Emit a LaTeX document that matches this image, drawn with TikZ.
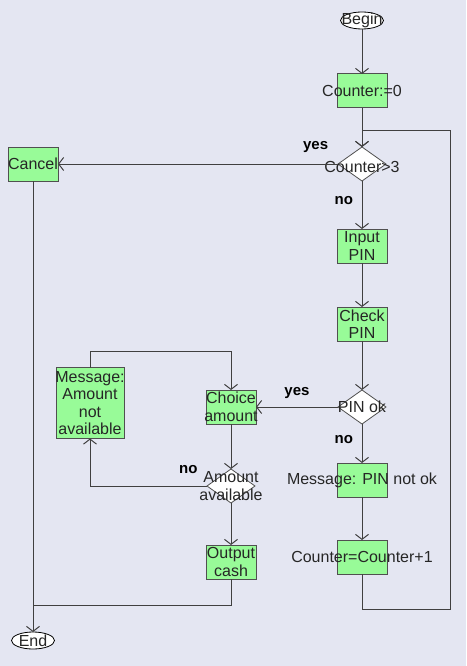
\documentclass[tikz,border=0pt]{standalone}
\usepackage{fontspec}
\setmainfont{Liberation Sans}
\usetikzlibrary{shapes.geometric,arrows.meta,positioning}
\definecolor{canvas}{HTML}{E4E6F2}
\definecolor{boxgreen}{HTML}{98FB98}
\definecolor{edge}{HTML}{505050}

\begin{document}
\begin{tikzpicture}[
  node distance=40pt,
  every node/.style={outer sep=0pt},
  txt/.style={
    inner sep=0pt,
    align=center,
    text=black!85,
    font=\fontsize{16}{17.5}\selectfont
  },
  box/.style={
    draw=edge,
    fill=boxgreen,
    line width=1pt,
    minimum width=50pt,
    minimum height=34pt,
    inner sep=0pt
  },
  decision/.style={
    diamond,
    draw=edge,
    fill=white,
    line width=0.8pt,
    minimum width=48pt,
    minimum height=34pt,
    inner sep=0pt
  },
  term/.style={
    ellipse,
    draw=black,
    fill=white,
    line width=0.8pt,
    minimum width=43pt,
    minimum height=17pt,
    inner sep=0pt
  },
  lbl/.style={inner sep=0pt, font=\fontsize{15}{15}\selectfont\bfseries},
  line/.style={draw=black!75, line width=1pt},
  arrow/.style={line, -{Straight Barb[length=5pt,width=13pt]}}
]

  \fill[canvas] (0,0) rectangle (466pt,-666pt);

  \node[term,label={[txt]center:Begin}] (begin) at (362pt,-20.5pt) {};

  \node[box,below=45pt of begin,label={[txt]center:Counter:=0}] (cnt0) {};

  \node[decision,below=39pt of cnt0,label={[txt,yshift=-3pt]center:Counter>3}]
    (chk3) {};

  \node[box,below=48pt of chk3,label={[txt]center:{Input\\PIN}}] (inpin) {};

  \node[box,below=44pt of inpin,label={[txt]center:{Check\\PIN}}] (chkpin) {};

  \node[decision,below=49pt of chkpin,label={[txt]center:PIN ok}] (pinok) {};

  \node[box,below=39pt of pinok,label={[txt]center:Message: PIN not ok}]
    (msgpin) {};

  \node[box,below=43pt of msgpin,label={[txt]center:Counter=Counter+1}]
    (incr) {};

  \node[box,left=280pt of chk3,label={[txt]center:Cancel}] (cancel) {};

  \node[term,below=451pt of cancel,label={[txt]center:End}] (end) {};

  \node[box,left=82pt of pinok,label={[txt]center:{Choice\\amount}}]
    (choice) {};

  \node[decision,below=45pt of choice,label={[txt]center:{Amount\\available}}]
    (amtav) {};

  \node[box,below=42pt of amtav,label={[txt]center:{Output\\cash}}]
    (outcash) {};

  \node[box,left=82pt of choice,yshift=4pt,minimum width=68pt,minimum height=71pt,
    label={[txt]center:{Message:\\Amount\\not\\available}}]
    (msgamt) {};

  \coordinate (join) at ([yshift=-26pt]outcash.south -| cancel.south);

  \draw[arrow] (begin) -- (cnt0);
  \draw[arrow] (cnt0) -- (chk3);
  \draw[arrow] (chk3) -- (cancel) node[lbl,pos=0.08,above=11pt] {yes};
  \draw[arrow] (chk3) -- (inpin) node[lbl,pos=0.4,left=9pt] {no};
  \draw[arrow] (inpin) -- (chkpin);
  \draw[arrow] (chkpin) -- (pinok);
  \draw[arrow] (pinok) -- (choice) node[lbl,midway,above=8pt] {yes};
  \draw[arrow] (pinok) -- (msgpin) node[lbl,pos=0.4,left=9pt] {no};
  \draw[arrow] (msgpin) -- (incr);
  \draw[arrow] (incr.south) -- ++(0,-35pt)
    -| ([xshift=88pt,yshift=17pt]chk3.north) -- ([yshift=17pt]chk3.north) -- (chk3);
  \draw[arrow] (choice) -- (amtav);
  \draw[arrow] (amtav) -- (outcash);
  \draw[arrow] (amtav) -| (msgamt) node[lbl,pos=0.08,above=12pt] {no};
  \draw[arrow] (msgamt.north) -- ++(0,16pt) -| (choice);
  \draw[line] (outcash.south) |- (join);
  \draw[arrow] (cancel) -- (end);

\end{tikzpicture}
\end{document}
